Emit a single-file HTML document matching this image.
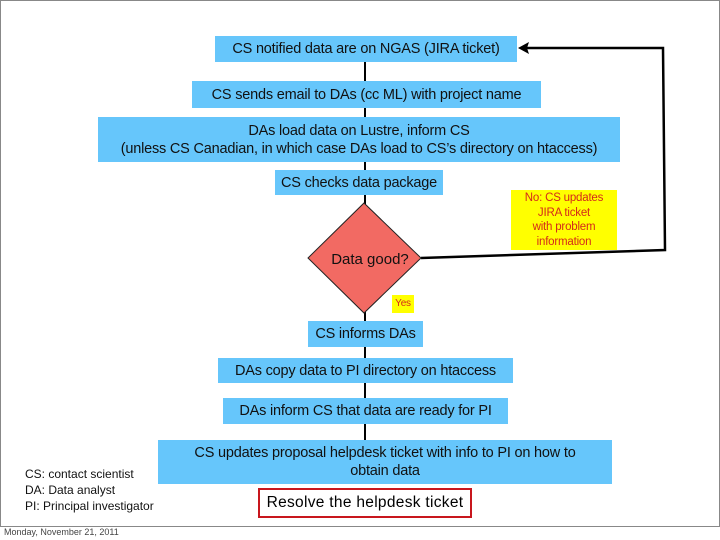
<!DOCTYPE html>
<html><head><meta charset="utf-8"><style>
body{margin:0;width:720px;height:540px;background:#fff;position:relative;overflow:hidden;font-family:"Liberation Sans",sans-serif;}
.frame{position:absolute;left:0;top:0;width:718px;height:525px;border:1px solid #888;}
.b{position:absolute;background:#66c6fb;color:#111;font-size:14.5px;display:flex;align-items:center;justify-content:center;text-align:center;white-space:nowrap;line-height:18px;letter-spacing:-0.2px}
svg{position:absolute;left:0;top:0}
</style></head><body>
<div class="frame"></div>
<svg width="720" height="540">
<line x1="365" y1="62" x2="365" y2="440" stroke="#000" stroke-width="2"/>
<polyline points="421,258 665,250 663,48 527,48" fill="none" stroke="#000" stroke-width="2.5"/>
<polygon points="518,48 529,42 527,48 529,54" fill="#000"/>
<polygon points="364,203 421,258 364,313 308,258" fill="#f26a63" stroke="#222" stroke-width="1"/>
<text x="370" y="264" font-family="Liberation Sans" font-size="15" text-anchor="middle" fill="#111">Data good?</text>
</svg>
<div class="b" style="left:215px;top:36px;width:302px;height:26px">CS notified data are on NGAS (JIRA ticket)</div>
<div class="b" style="left:192px;top:81px;width:349px;height:27px">CS sends email to DAs (cc ML) with project name</div>
<div class="b" style="left:98px;top:117px;width:522px;height:45px">DAs load data on Lustre, inform CS<br>(unless CS Canadian, in which case DAs load to CS’s directory on htaccess)</div>
<div class="b" style="left:275px;top:170px;width:168px;height:25px">CS checks data package</div>
<div class="b" style="left:511px;top:190px;width:106px;height:60px;background:#ffff00;color:#d42a1a;font-size:11.5px;line-height:14.5px">No: CS updates<br>JIRA ticket<br>with problem<br>information</div>
<div class="b" style="left:392px;top:295px;width:22px;height:18px;background:#ffff00;color:#d42a1a;font-size:10px">Yes</div>
<div class="b" style="left:308px;top:321px;width:115px;height:26px">CS informs DAs</div>
<div class="b" style="left:218px;top:358px;width:295px;height:25px">DAs copy data to PI directory on htaccess</div>
<div class="b" style="left:223px;top:398px;width:285px;height:26px">DAs inform CS that data are ready for PI</div>
<div class="b" style="left:158px;top:440px;width:454px;height:44px">CS updates proposal helpdesk ticket with info to PI on how to<br>obtain data</div>
<div style="position:absolute;left:258px;top:488px;width:210px;height:26px;border:2px solid #c8161d;font-size:15.5px;letter-spacing:0.3px;display:flex;align-items:center;justify-content:center;white-space:nowrap">Resolve the helpdesk ticket</div>
<div style="position:absolute;left:25px;top:466px;font-size:12px;line-height:16px;color:#111">CS: contact scientist<br>DA: Data analyst<br>PI: Principal investigator</div>
<div style="position:absolute;left:4px;top:527px;font-size:9px;color:#444">Monday, November 21, 2011</div>
</body></html>
